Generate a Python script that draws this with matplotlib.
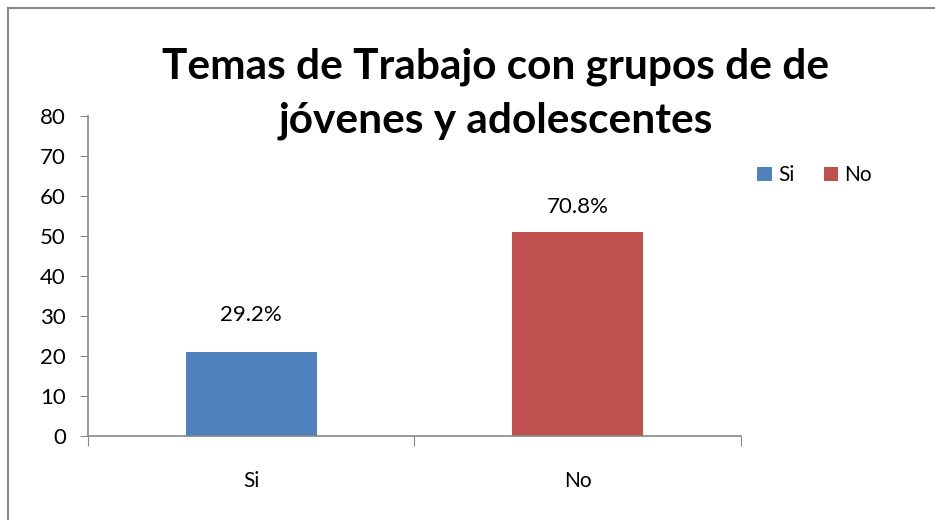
import matplotlib
matplotlib.use("Agg")
import matplotlib.pyplot as plt
from matplotlib.lines import Line2D
import numpy as np

categorias = ["Si", "No"]
valores = [21, 51]
etiquetas = ["29.2%", "70.8%"]
colores = ["#4F81BD", "#C0504D"]
titulo = "Temas de Trabajo con grupos de de\njóvenes y adolescentes"

# separación de cada etiqueta sobre su barra (puntos)
desplaz = [27, 18]

plt.rcParams['font.family'] = ['Lato', 'DejaVu Sans']

fig = plt.figure(figsize=(9.35, 5.2), dpi=100)
ax = fig.add_axes([0.0941, 0.1615, 0.6984, 0.6155])

x = np.arange(len(categorias))
barras = ax.bar(x, valores, width=0.4, color=colores, label=categorias)

for xi, v, lab, d in zip(x, valores, etiquetas, desplaz):
    ax.annotate(lab, (xi, v), xytext=(0, d), textcoords="offset points",
                ha="center", va="center", fontsize=16)

ax.set_ylim(0, 80)
ax.set_yticks(range(0, 81, 10))
ax.set_xlim(-0.5, 1.5)
ax.set_xticks([-0.5, 0.5, 1.5])
ax.set_xticklabels([])
ax.set_xticks(x, minor=True)
ax.set_xticklabels(categorias, minor=True)
ax.tick_params(axis="x", which="major", length=7, color="#868686", direction="out")
ax.tick_params(axis="x", which="minor", length=0, pad=25, labelsize=15)
ax.tick_params(axis="y", length=6, color="#868686", pad=10, labelsize=16)

for s in ["top", "right"]:
    ax.spines[s].set_visible(False)
for s in ["left", "bottom"]:
    ax.spines[s].set_color("#868686")
    ax.spines[s].set_linewidth(1.2)

ax.legend(barras, categorias, loc="upper left", bbox_to_anchor=(0.79, 0.718),
          bbox_transform=fig.transFigure, frameon=False, ncol=2, fontsize=15,
          handlelength=0.7, handleheight=0.7, handletextpad=0.3, columnspacing=1.4)

fig.text(0.53, 0.82, titulo, ha="center", va="center", fontsize=30.5,
         fontweight="bold", linespacing=1.5)

# marco del gráfico
fig.add_artist(Line2D([0.009, 0.009], [0.0, 0.985], color="#868686", lw=1.5))
fig.add_artist(Line2D([0.009, 1.0], [0.985, 0.985], color="#868686", lw=1.5))

fig.savefig("out.png", dpi=100)
